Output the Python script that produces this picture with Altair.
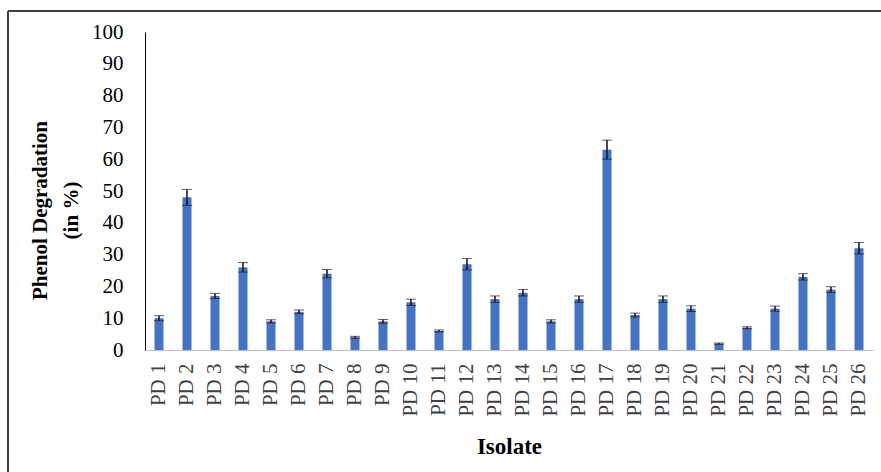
import altair as alt
import pandas as pd

# Phenol degradation (%) by isolate, with standard error
isolates = [f"PD {i}" for i in range(1, 27)]
degradation = [10, 48, 17, 26, 9, 12, 24, 4, 9, 15, 6, 27, 16,
               18, 9, 16, 63, 11, 16, 13, 2, 7, 13, 23, 19, 32]
error = [0.8, 2.5, 0.8, 1.5, 0.5, 0.6, 1.3, 0.3, 0.6, 1.0, 0.3, 1.8, 1.0,
         1.0, 0.5, 1.0, 3.0, 0.6, 1.0, 0.9, 0.2, 0.3, 0.8, 1.0, 0.9, 1.8]

df = pd.DataFrame({"isolate": isolates, "value": degradation, "err": error})
df["lo"] = df["value"] - df["err"]
df["hi"] = df["value"] + df["err"]

FONT = "Liberation Serif"
W, H = 728, 318
Y_TITLE = ["Phenol Degradation", "(in %)"]

x_enc = alt.X(
    "isolate:N", sort=isolates,
    scale=alt.Scale(paddingInner=0.68, paddingOuter=0.34),
    axis=alt.Axis(
        title="Isolate", titleFont=FONT, titleFontSize=23, titleFontWeight="bold",
        titleColor="black", titleY=103, titleBaseline="alphabetic",
        labelAngle=-90, labelFont=FONT, labelFontSize=21, labelColor="#404040",
        labelPadding=13, labelAlign="right", labelBaseline="middle",
        ticks=False, domainColor="#bfbfbf", domainWidth=1,
    ),
)

y_axis = alt.Axis(
    titleFont=FONT, titleFontSize=21, titleFontWeight="bold", titleColor="black",
    titleY=178, titlePadding=10, titleLineHeight=31,
    values=list(range(0, 101, 10)), labelFont=FONT, labelFontSize=21,
    labelColor="black", labelPadding=22, ticks=False, grid=False,
    domainColor="black", domainWidth=1,
)
y_scale = alt.Scale(domain=[0, 100], nice=False)

bars = alt.Chart(df).mark_bar(color="#4472C4", size=9).encode(
    x=x_enc,
    y=alt.Y("value:Q", scale=y_scale, axis=y_axis, title=Y_TITLE),
)

errbars = alt.Chart(df).mark_errorbar(
    ticks=alt.MarkConfig(size=10, color="#1a1a2e", strokeWidth=1.6),
    rule=alt.MarkConfig(color="#1a1a2e", strokeWidth=1.6),
).encode(
    x=alt.X("isolate:N", sort=isolates),
    y=alt.Y("lo:Q", scale=y_scale, axis=y_axis, title=Y_TITLE),
    y2="hi:Q",
)

# Outer frame around the figure (left and top edges are visible)
frame_left = alt.Chart(df).mark_rule(color="#404040", strokeWidth=1.6).encode(
    x=alt.value(-137), y=alt.value(-21), y2=alt.value(H + 140)
)
frame_top = alt.Chart(df).mark_rule(color="#404040", strokeWidth=1.6).encode(
    x=alt.value(-137), x2=alt.value(W + 20), y=alt.value(-21)
)

chart = alt.layer(bars, errbars, frame_left, frame_top).properties(
    width=W, height=H,
    autosize=alt.AutoSizeParams(type="none"),
    padding={"left": 145, "top": 32, "right": 8, "bottom": 122},
    background="white",
).configure_view(stroke=None)

chart.save("out.html", embed_options={"renderer": "svg", "actions": False})
